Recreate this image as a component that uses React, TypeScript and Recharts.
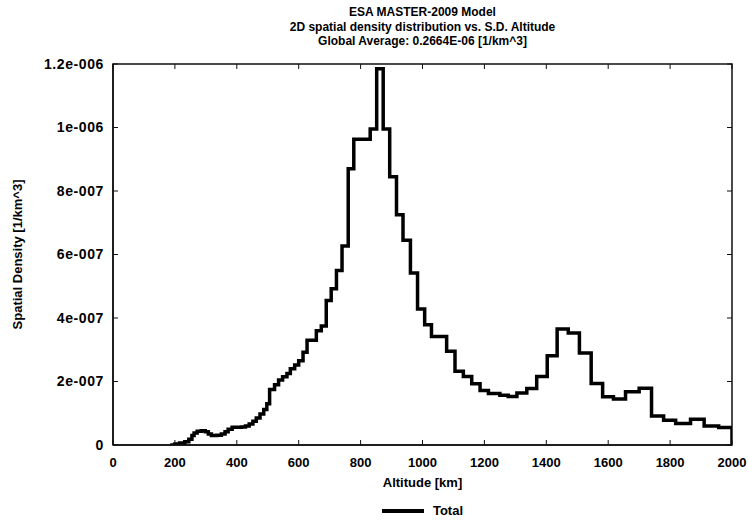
import { LineChart, Line, XAxis, YAxis, Legend, ReferenceArea } from 'recharts';

// altitude bin left edges [km] and spatial density [1/km^3]
const altitudes = [
  185, 200, 215, 232, 245, 255, 262, 272, 285, 298, 308, 318, 335, 350, 362,
  372, 385, 400, 415, 428, 440, 452, 463, 475, 487, 497, 506, 522, 535, 548,
  562, 573, 587, 600, 614, 627, 657, 673, 689, 705, 722, 740, 760, 778, 831,
  852, 873, 894, 916, 937, 961, 984, 1007, 1029, 1078, 1105, 1132, 1159, 1186, 1213,
  1250, 1277, 1305, 1337, 1369, 1403, 1435, 1471, 1507, 1545, 1582, 1617, 1656, 1700, 1740,
  1779, 1818, 1866, 1910, 1957, 2000,
];
const densities = [
  0, 0.03e-7, 0.06e-7, 0.1e-7, 0.18e-7, 0.3e-7, 0.38e-7, 0.43e-7, 0.45e-7, 0.42e-7,
  0.35e-7, 0.3e-7, 0.31e-7, 0.35e-7, 0.42e-7, 0.5e-7, 0.56e-7, 0.56e-7, 0.57e-7, 0.6e-7,
  0.66e-7, 0.75e-7, 0.85e-7, 0.98e-7, 1.12e-7, 1.3e-7, 1.75e-7, 1.9e-7, 2.05e-7, 2.15e-7,
  2.25e-7, 2.4e-7, 2.52e-7, 2.65e-7, 2.92e-7, 3.3e-7, 3.6e-7, 3.75e-7, 4.55e-7, 4.92e-7,
  5.5e-7, 6.27e-7, 8.7e-7, 9.63e-7, 9.95e-7, 11.85e-7, 9.95e-7, 8.45e-7, 7.25e-7, 6.45e-7,
  5.42e-7, 4.28e-7, 3.79e-7, 3.42e-7, 2.95e-7, 2.32e-7, 2.16e-7, 1.93e-7, 1.72e-7, 1.62e-7,
  1.57e-7, 1.53e-7, 1.64e-7, 1.78e-7, 2.16e-7, 2.81e-7, 3.65e-7, 3.53e-7, 2.9e-7, 1.94e-7,
  1.52e-7, 1.45e-7, 1.68e-7, 1.79e-7, 0.91e-7, 0.78e-7, 0.68e-7, 0.81e-7, 0.6e-7, 0.55e-7,
  0,
];

const xTicks = [0, 200, 400, 600, 800, 1000, 1200, 1400, 1600, 1800, 2000];
const yTicks = [0, 2e-7, 4e-7, 6e-7, 8e-7, 1e-6, 1.2e-6];
const yTickLabels = ['0', '2e-007', '4e-007', '6e-007', '8e-007', '1e-006', '1.2e-006'];

const titleLines = [
  'ESA MASTER-2009 Model',
  '2D spatial density distribution vs. S.D. Altitude',
  'Global Average: 0.2664E-06 [1/km^3]',
];

const data = altitudes.map((alt, i) => ({ alt, density: densities[i] }));

const FONT = '"Liberation Sans", Arial, sans-serif';
const W = 748;
const H = 520;
const M = { top: 64, right: 16, left: 53, bottom: 45 };
const Y_AXIS_W = 60;
const X_AXIS_H = 30;
const PLOT_TOP = M.top;
const PLOT_RIGHT = W - M.right;
const TICK = 5;
const X_MARGIN = 13;
const Y_MARGIN = 9;

const fmtY = (v: number) => {
  const i = yTicks.findIndex((t) => Math.abs(t - v) < 1e-12);
  return i >= 0 ? yTickLabels[i] : '';
};

// bottom tick: label + inward tick marks on bottom and top edges
const XTick = ({ x, y, payload }: any) => {
  const axisY = y - X_MARGIN;
  return (
    <g>
      <line x1={x} y1={axisY} x2={x} y2={axisY - TICK} stroke="#111" strokeWidth={1} />
      <line x1={x} y1={PLOT_TOP} x2={x} y2={PLOT_TOP + TICK} stroke="#111" strokeWidth={1} />
      <text x={x} y={y} dy="0.71em" textAnchor="middle" fill="#000" style={{ fontSize: 13, fontWeight: 700, fontFamily: FONT }}>
        {payload.value}
      </text>
    </g>
  );
};

// left tick: label + inward tick marks on left and right edges
const YTick = ({ x, y, payload }: any) => {
  const axisX = x + Y_MARGIN;
  return (
    <g>
      <line x1={axisX} y1={y} x2={axisX + TICK} y2={y} stroke="#111" strokeWidth={1} />
      <line x1={PLOT_RIGHT} y1={y} x2={PLOT_RIGHT - TICK} y2={y} stroke="#111" strokeWidth={1} />
      <text x={x} y={y} dy="0.355em" textAnchor="end" fill="#000" style={{ fontSize: 14, fontWeight: 700, fontFamily: FONT, letterSpacing: 0.6 }}>
        {fmtY(payload.value)}
      </text>
    </g>
  );
};

const LegendContent = () => (
  <div style={{ display: 'flex', alignItems: 'center', justifyContent: 'center', fontFamily: FONT, fontWeight: 700, fontSize: 13, color: '#000' }}>
    <svg width={42} height={8} style={{ marginRight: 9 }}>
      <line x1={0} y1={4} x2={42} y2={4} stroke="#000" strokeWidth={4} />
    </svg>
    <span>Total</span>
  </div>
);

export default function App() {
  return (
    <div style={{ position: 'absolute', left: 0, top: 0, width: W, height: H, background: '#fff' }}>
      <div style={{ position: 'absolute', left: 113, width: 619, top: 5, textAlign: 'center', fontFamily: FONT, fontWeight: 700, fontSize: 12, lineHeight: '14.5px', color: '#000' }}>
        {titleLines.map((t) => (
          <div key={t}>{t}</div>
        ))}
      </div>
      <LineChart width={W} height={H} data={data} margin={M}>
        <XAxis
          dataKey="alt"
          type="number"
          domain={[0, 2000]}
          ticks={xTicks}
          allowDataOverflow
          tick={<XTick />}
          tickLine={false}
          tickSize={0}
          tickMargin={X_MARGIN}
          axisLine={{ stroke: '#111', strokeWidth: 1.5 }}
          height={X_AXIS_H}
          label={{
            content: ({ viewBox }: any) => (
              <text x={viewBox.x + viewBox.width / 2} y={487} textAnchor="middle" style={{ fontSize: 13, fontWeight: 700, fontFamily: FONT }} fill="#000">
                Altitude [km]
              </text>
            ),
          }}
        />
        <YAxis
          type="number"
          domain={[0, 1.2e-6]}
          ticks={yTicks}
          allowDataOverflow
          tick={<YTick />}
          tickLine={false}
          tickSize={0}
          tickMargin={Y_MARGIN}
          axisLine={{ stroke: '#111', strokeWidth: 1.5 }}
          width={Y_AXIS_W}
          label={{
            content: ({ viewBox }: any) => {
              const cy = viewBox.y + viewBox.height / 2;
              return (
                <text x={22} y={cy} transform={`rotate(-90 22 ${cy})`} textAnchor="middle" style={{ fontSize: 13, fontWeight: 700, fontFamily: FONT }} fill="#000">
                  Spatial Density [1/km^3]
                </text>
              );
            },
          }}
        />
        {/* plot frame */}
        <ReferenceArea x1={0} x2={2000} y1={0} y2={1.2e-6} fill="none" fillOpacity={0} stroke="#111" strokeWidth={1.5} ifOverflow="visible" />
        <Legend verticalAlign="middle" align="center" layout="horizontal" wrapperStyle={{ top: 503, left: 113, width: 619 }} content={<LegendContent />} />
        <Line
          type="stepAfter"
          dataKey="density"
          name="Total"
          stroke="#000"
          strokeWidth={3.5}
          strokeLinejoin="miter"
          dot={false}
          activeDot={false}
          isAnimationActive={false}
        />
      </LineChart>
    </div>
  );
}
